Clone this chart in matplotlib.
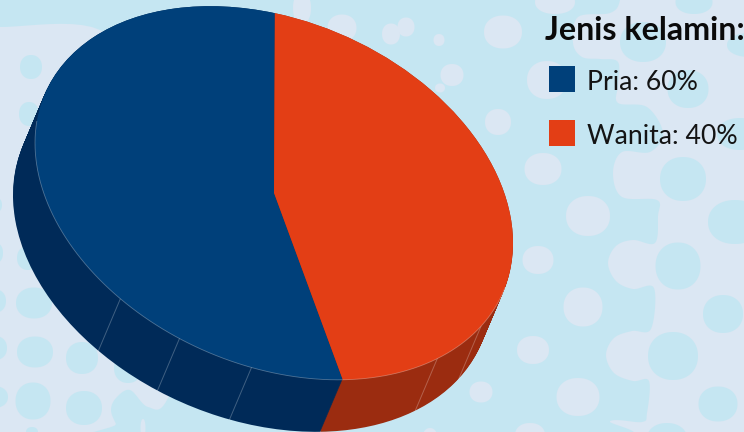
import numpy as np
import matplotlib
matplotlib.use("Agg")
import matplotlib.pyplot as plt
from matplotlib.patches import Polygon, Rectangle
from matplotlib.transforms import Affine2D

# legend as printed, and the slice shares as they are actually drawn
title = "Jenis kelamin:"
labels = ["Pria: 60%", "Wanita: 40%"]
shares = [54.7, 45.3]
colors = ["#00407a", "#e33e15"]
side_colors = ["#002a58", "#9b2c10"]
seam_angles = [230, 246.7, 264.6, 313.1, 330]

PALE = "#dbe7f3"
LIGHT = "#c5e6f2"

# background: big light region outline, pixels
region = [
    (-30, -30), (620, -30), (620, 0), (610, 13), (578, 17), (573, 43), (582, 57), (600, 59), (618, 62),
    (618, 85), (618, 103), (647, 107), (663, 133), (650, 152), (622, 152), (613, 173),
    (622, 197), (657, 200), (658, 216), (655, 243), (633, 240), (616, 246), (608, 263),
    (616, 281), (633, 289), (654, 288), (651, 329), (632, 331), (614, 338), (606, 355),
    (614, 373), (633, 381), (649, 381), (647, 413), (642, 422), (610, 421), (598, 440),
    (125, 440), (116, 424), (111, 410), (116, 398), (130, 390), (148, 407), (168, 398),
    (200, 300), (150, 100), (100, 30), (0, 27), (-30, 27),
]
# (cx, cy, w, h)
pale_blobs = [
    (503, 32, 38, 33), (547, 80, 40, 38), (498, 122, 26, 26), (543, 169, 37, 32),
    (555, 2, 40, 24), (588, 216, 44, 40), (538, 260, 31, 28), (583, 307, 39, 39),
    (533, 350, 32, 28), (578, 397, 43, 38), (530, 435, 30, 24), (481, 392, 23, 21),
    (430, 438, 15, 20), (342, 28, 29, 27), (391, 34, 18, 21), (406, 27, 17, 19),
    (439, 40, 11, 12), (452, 75, 23, 22), (440, 88, 10, 9), (302, 8, 18, 32),
    (143, 428, 5, 18),
]
light_blobs = [
    (643, 42, 46, 40), (694, 2, 37, 24), (750, 45, 46, 24), (688, 89, 41, 38),
    (740, 134, 46, 32), (683, 179, 46, 44), (735, 222, 54, 44), (678, 266, 45, 47),
    (723, 314, 40, 38), (673, 356, 50, 48), (718, 404, 39, 35), (667, 440, 41, 34),
    (31, 67, 22, 24), (29, 114, 20, 24), (28, 258, 22, 24), (34, 303, 36, 31),
    (35, 352, 36, 31), (33, 401, 35, 37), (32, 432, 12, 10), (-6, 301, 24, 24),
    (-5, 348, 24, 24), (-6, 397, 28, 22), (-5, 205, 14, 16), (-4, 253, 14, 20),
    (82, 358, 32, 32), (84, 408, 36, 34), (128, 368, 28, 30),
]


def smooth(points, steps=10):
    # closed catmull-rom through the outline points
    p = np.array(points, dtype=float)
    out = []
    for i in range(len(p)):
        p0, p1, p2, p3 = p[i - 1], p[i], p[(i + 1) % len(p)], p[(i + 2) % len(p)]
        for t in np.linspace(0, 1, steps, endpoint=False):
            out.append(0.5 * (2 * p1 + (p2 - p0) * t + (2 * p0 - 5 * p1 + 4 * p2 - p3) * t ** 2
                              + (3 * p1 - p0 - 3 * p2 + p3) * t ** 3))
    return np.array(out)


def blob(cx, cy, w, h, color):
    # a bit squarer than an ellipse
    a = np.linspace(0, 2 * np.pi, 60, endpoint=False)
    c, s = np.cos(a), np.sin(a)
    x = cx + w / 2 * np.sign(c) * np.abs(c) ** 0.93
    y = cy + h / 2 * np.sign(s) * np.abs(s) ** 0.93
    return Polygon(np.column_stack([x, y]), closed=True, fc=color, ec="none", zorder=2)


fig = plt.figure(figsize=(7.44, 4.32), dpi=100, facecolor=PALE)
ax = fig.add_axes([0, 0, 1, 1])

ax.add_patch(Polygon(smooth(region), closed=True, fc=LIGHT, ec="none", zorder=1))
for cx, cy, w, h in pale_blobs:
    ax.add_patch(blob(cx, cy, w, h, PALE))
for cx, cy, w, h in light_blobs:
    ax.add_patch(blob(cx, cy, w, h, LIGHT))

# pie on the unit circle, sheared into the tilted ellipse
center = (274, 193)
depth = (-22, 52)
tilt = np.array([[239, 0, center[0]], [50, -180, center[1]], [0, 0, 1]], dtype=float)
start = 89.8

for k in np.linspace(1, 0, 53):
    wedges, _ = ax.pie(shares, colors=side_colors, startangle=start, radius=1)
    shift = Affine2D(tilt).translate(depth[0] * k, depth[1] * k)
    for w in wedges:
        w.set_transform(shift + ax.transData)
        w.set_zorder(3)
        w.set_linewidth(0)

wedges, _ = ax.pie(shares, colors=colors, startangle=start, radius=1)
for w in wedges:
    w.set_transform(Affine2D(tilt) + ax.transData)
    w.set_zorder(5)
    w.set_linewidth(0)


def rim(deg):
    a = np.radians(deg)
    return (tilt @ np.array([np.cos(a), np.sin(a), np.ones_like(a)]))[:2]


# thin seams on the side wall and pale rim along the front edge
for deg in seam_angles:
    x, y = rim(deg)
    ax.plot([x, x + depth[0]], [y, y + depth[1]], color="#ffffff", alpha=0.25, lw=0.7, zorder=4)
rx, ry = rim(np.linspace(173, 345, 200))
ax.plot(rx, ry, color="#ffffff", alpha=0.3, lw=0.6, zorder=6)

ax.text(545, 40, title, fontsize=23.2, fontweight="bold", family="Lato", color="#0a0a0a", zorder=7)
for i, label in enumerate(labels):
    top = 66 + 54 * i
    ax.add_patch(Rectangle((549, top), 26, 26, fc=colors[i], ec="none", zorder=7))
    ax.text(587, top + 24, label, fontsize=19.2, family="Lato", color="#141414", zorder=7)

ax.set_xlim(0, 744)
ax.set_ylim(432, 0)
ax.set_aspect("auto")
ax.axis("off")

fig.savefig("out.png", dpi=100, facecolor=PALE)
